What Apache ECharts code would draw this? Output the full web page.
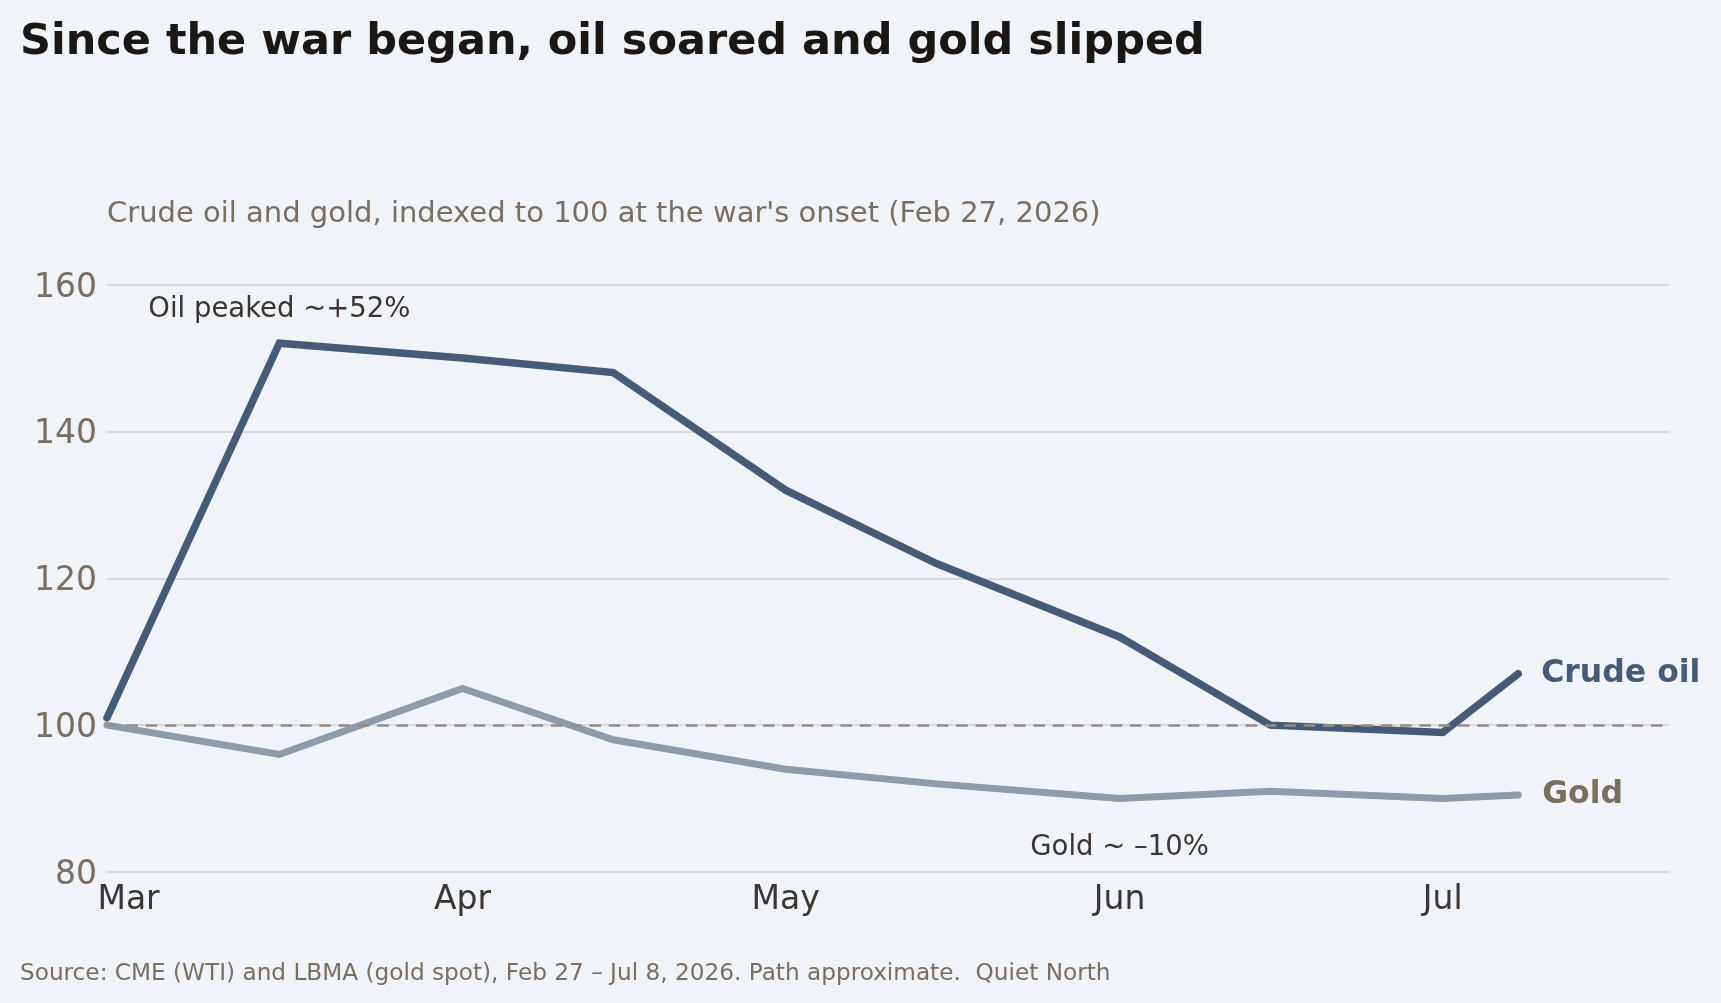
<!DOCTYPE html>
<html>
<head>
<meta charset="utf-8">
<script src="https://cdn.jsdelivr.net/npm/echarts@6/dist/echarts.min.js"></script>
<style>
  html, body { margin: 0; padding: 0; background: #f0f3f8; }
  #chart { width: 1721px; height: 1003px; }
</style>
</head>
<body>
<div id="chart"></div>
<script>
// sample dates and the two indexed series (Feb 27 = 100)
var dates = ['2026-02-27', '2026-03-15', '2026-04-01', '2026-04-15', '2026-05-01',
             '2026-05-15', '2026-06-01', '2026-06-15', '2026-07-01', '2026-07-08'];
var oilIndex  = [101, 152, 150, 148, 132, 122, 112, 100, 99, 107];
var goldIndex = [100, 96, 105, 98, 94, 92, 90, 91, 90, 90.5];

var monthTicks = ['2026-03-01', '2026-04-01', '2026-05-01', '2026-06-01', '2026-07-01'];
var monthLabels = ['Mar', 'Apr', 'May', 'Jun', 'Jul'];
var yTicks = { min: 80, max: 160, step: 20 };

var START = '2026-02-27', END = '2026-07-22';
var FONT = 'DejaVu Sans';
var OIL = '#465b77', GOLD = '#8e9baa';

// days since the war's onset, used as the x value
function day(s) {
  var p = s.split('-'), q = START.split('-');
  return Math.round((Date.UTC(+p[0], p[1] - 1, +p[2]) - Date.UTC(+q[0], q[1] - 1, +q[2])) / 86400000);
}
function pairs(vals) { return dates.map(function (d, i) { return [day(d), vals[i]]; }); }
var tickDays = monthTicks.map(day);

var chart = echarts.init(document.getElementById('chart'), null, { renderer: 'canvas' });

var option = {
  backgroundColor: '#f0f3f8',
  animation: false,
  textStyle: { fontFamily: FONT },
  title: [
    {
      text: 'Since the war began, oil soared and gold slipped',
      left: 20, top: 21, padding: 0,
      textStyle: { fontSize: 43, fontWeight: 'bold', color: '#1b1714', fontFamily: FONT }
    },
    {
      text: "Crude oil and gold, indexed to 100 at the war's onset (Feb 27, 2026)",
      left: 107, top: 200, padding: 0,
      textStyle: { fontSize: 29, fontWeight: 'normal', color: '#7a6e60', fontFamily: FONT }
    },
    {
      text: 'Source: CME (WTI) and LBMA (gold spot), Feb 27 \u2013 Jul 8, 2026. Path approximate.  Quiet North',
      left: 20, top: 962, padding: 0,
      textStyle: { fontSize: 23.2, fontWeight: 'normal', color: '#7a6e60', fontFamily: FONT }
    }
  ],
  grid: { left: 107, right: 52, top: 284.5, bottom: 131, containLabel: false },
  xAxis: {
    type: 'value',
    min: 0,
    max: day(END),
    axisLine: { show: false },
    axisTick: { show: false },
    splitLine: { show: false },
    axisLabel: {
      customValues: tickDays,
      formatter: function (v) { return monthLabels[tickDays.indexOf(v)]; },
      fontSize: 33, color: '#3b3631', margin: 12, fontFamily: FONT
    }
  },
  yAxis: {
    type: 'value',
    min: yTicks.min, max: yTicks.max, interval: yTicks.step,
    axisLine: { show: false },
    axisTick: { show: false },
    splitLine: { lineStyle: { color: '#d6d9df', width: 2 } },
    axisLabel: {
      margin: 10,
      formatter: '{v|{value}}',
      rich: { v: { fontSize: 33, color: '#7a6e60', padding: [7, 0, 0, 0], fontFamily: FONT } }
    }
  },
  series: [
    {
      name: 'Crude oil',
      type: 'line',
      data: pairs(oilIndex),
      showSymbol: false,
      symbol: 'none',
      lineStyle: { color: OIL, width: 7.5, cap: 'round', join: 'miter' },
      endLabel: {
        show: true, formatter: '{a}', distance: 23,
        fontSize: 31.5, fontWeight: 'bold', color: OIL, fontFamily: FONT
      },
      markLine: {
        silent: true, symbol: 'none',
        label: { show: false },
        lineStyle: { color: '#968c80', width: 2.5, type: [11.5, 7.8] },
        data: [{ yAxis: 100 }]
      },
      markPoint: {
        silent: true, symbol: 'circle', symbolSize: 0,
        label: {
          show: true, position: 'inside', formatter: 'Oil peaked ~+52%',
          fontSize: 27.5, color: '#3a3530', fontFamily: FONT
        },
        data: [{ coord: [day('2026-03-15'), 156.5] }]
      },
      z: 3
    },
    {
      name: 'Gold',
      type: 'line',
      data: pairs(goldIndex),
      showSymbol: false,
      symbol: 'none',
      lineStyle: { color: GOLD, width: 7, cap: 'round', join: 'miter' },
      endLabel: {
        show: true, formatter: '{a}', distance: 24,
        fontSize: 31.5, fontWeight: 'bold', color: '#7a6e5f', fontFamily: FONT
      },
      markPoint: {
        silent: true, symbol: 'circle', symbolSize: 0,
        label: {
          show: true, position: 'inside', formatter: 'Gold ~ \u201310%',
          fontSize: 27.5, color: '#3a3530', fontFamily: FONT
        },
        data: [{ coord: [day('2026-06-01'), 83.25] }]
      },
      z: 4
    }
  ]
};

chart.setOption(option);
</script>
</body>
</html>
